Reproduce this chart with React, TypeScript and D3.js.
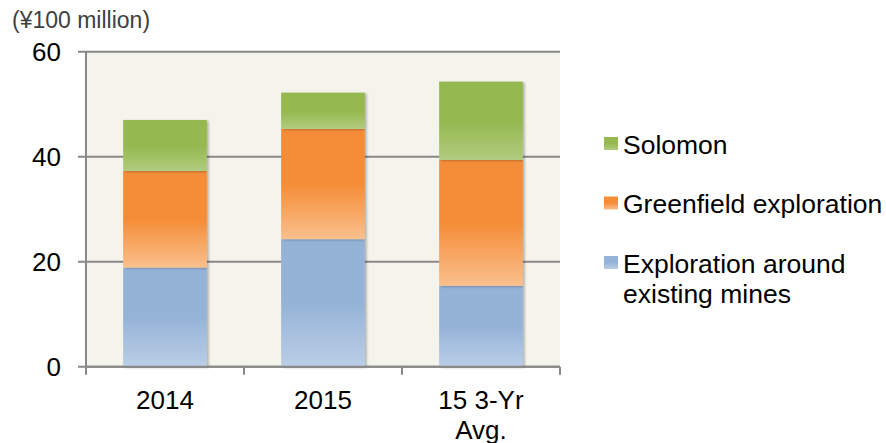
import React from "react";
import * as d3 from "d3";

const categories = ["2014", "2015", "15 3-Yr Avg."];
const categoryLines = [["2014"], ["2015"], ["15 3-Yr", "Avg."]];
const seriesNames = ["Exploration around existing mines", "Greenfield exploration", "Solomon"];
const legendLines = [["Exploration around", "existing mines"], ["Greenfield exploration"], ["Solomon"]];
const existingMines = [18.9, 24.3, 15.4];
const greenfield = [18.4, 21.0, 24.0];
const solomon = [9.7, 6.9, 14.9];
const yTicks = [0, 20, 40, 60];
const unitLabel = "(¥100 million)";

const baseColors = ["#95B3D7", "#F58D37", "#95B84F"];
const lightColors = ["#BACEE6", "#FABF8D", "#B0CC7F"];

const W = 886;
const H = 443;
const plot = { left: 86, right: 560, top: 51.7, bottom: 366.7 };
const FONT = "'Liberation Sans', Arial, sans-serif";

export default function App() {
  const x = d3
    .scaleBand<string>()
    .domain(categories)
    .range([plot.left, plot.right])
    .paddingInner(0.47)
    .paddingOuter(0.235);
  const y = d3.scaleLinear().domain([0, 60]).range([plot.bottom, plot.top]);

  const rows = categories.map((c, i) => ({
    cat: c,
    s0: existingMines[i],
    s1: greenfield[i],
    s2: solomon[i],
  }));
  const stack = d3.stack<any>().keys(["s0", "s1", "s2"]);
  const series = stack(rows);

  const step = x.step();
  const boundaries = d3.range(categories.length + 1).map((i) => plot.left + i * step);

  return (
    <svg
      width={W}
      height={H}
      style={{ position: "absolute", left: 0, top: 0, background: "#fff" }}
      fontFamily={FONT}
    >
      <defs>
        {baseColors.map((c, i) => (
          <linearGradient key={i} id={`g${i}`} x1="0" y1="0" x2="0" y2="1">
            <stop offset="0" stopColor={c} />
            <stop offset="0.5" stopColor={c} />
            <stop offset="1" stopColor={lightColors[i]} />
          </linearGradient>
        ))}
        <filter id="shadow" x="-10%" y="-10%" width="130%" height="120%">
          <feDropShadow dx="2" dy="1" stdDeviation="1.2" floodColor="#000" floodOpacity="0.25" />
        </filter>
      </defs>

      <rect
        x={plot.left}
        y={plot.top}
        width={plot.right - plot.left}
        height={plot.bottom - plot.top}
        fill="#F4F3EC"
      />

      {yTicks.map((t) => (
        <line
          key={t}
          x1={plot.left - 8}
          x2={plot.right}
          y1={y(t)}
          y2={y(t)}
          stroke="#888888"
          strokeWidth={2}
        />
      ))}

      {series.map((s, si) =>
        s.map((d, di) => (
          <rect
            key={`${si}-${di}`}
            x={x(categories[di])}
            y={y(d[1])}
            width={x.bandwidth()}
            height={y(d[0]) - y(d[1])}
            fill={`url(#g${si})`}
            filter="url(#shadow)"
          />
        ))
      )}

      <line x1={plot.left} x2={plot.left} y1={plot.top} y2={plot.bottom} stroke="#888888" strokeWidth={2} />
      <line x1={plot.left} x2={plot.right} y1={plot.bottom} y2={plot.bottom} stroke="#888888" strokeWidth={2} />
      {boundaries.map((bx, i) => (
        <line key={i} x1={bx} x2={bx} y1={plot.bottom} y2={plot.bottom + 8} stroke="#888888" strokeWidth={2} />
      ))}

      {yTicks.map((t) => (
        <text
          key={t}
          x={61}
          y={y(t)}
          textAnchor="end"
          dominantBaseline="central"
          fontSize={26}
          fill="#000"
        >
          {t}
        </text>
      ))}

      {categories.map((c, i) => (
        <text
          key={c}
          x={(x(c) as number) + x.bandwidth() / 2}
          y={408.5}
          textAnchor="middle"
          fontSize={26}
          fill="#000"
        >
          {categoryLines[i].map((ln, j) => (
            <tspan key={j} x={(x(c) as number) + x.bandwidth() / 2} dy={j === 0 ? 0 : 30}>
              {ln}
            </tspan>
          ))}
        </text>
      ))}

      <text x={12} y={28} fontSize={23} fill="#404040">
        {unitLabel}
      </text>

      {[2, 1, 0].map((si, k) => {
        const cy = 144 + k * 59.5;
        return (
          <g key={si}>
            <rect x={604} y={cy - 7} width={14} height={13} fill={`url(#g${si})`} />
            <text x={623} y={cy + 9.5} fontSize={26.5} fill="#000">
              {legendLines[si].map((ln, j) => (
                <tspan key={j} x={623} dy={j === 0 ? 0 : 30}>
                  {ln}
                </tspan>
              ))}
            </text>
          </g>
        );
      })}
    </svg>
  );
}
